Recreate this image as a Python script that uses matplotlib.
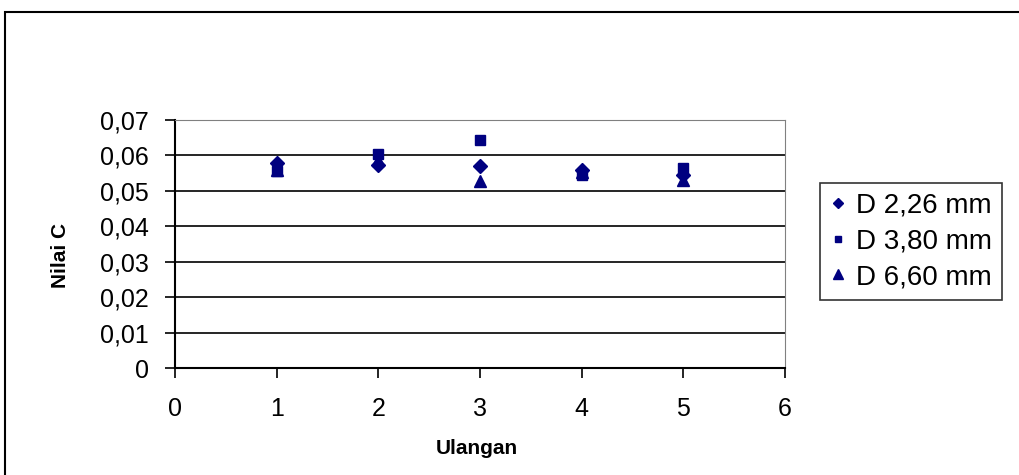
import matplotlib
matplotlib.use("Agg")
import matplotlib.pyplot as plt
from matplotlib.patches import Rectangle
from matplotlib.ticker import FuncFormatter

plt.rcParams['font.family'] = ['Liberation Sans', 'DejaVu Sans']

ulangan = [1, 2, 3, 4, 5]
d226 = [0.0578, 0.0573, 0.0570, 0.0559, 0.0546]
d380 = [0.0556, 0.0604, 0.0644, 0.0546, 0.0564]
d660 = [0.0560, 0.0588, 0.0528, 0.0552, 0.0531]
labels = ["D 2,26 mm", "D 3,80 mm", "D 6,60 mm"]
navy = "#000080"

W, H = 1019, 475
fig = plt.figure(figsize=(W / 100, H / 100), dpi=100)
ax = fig.add_axes([175 / W, 1 - 368 / H, 610 / W, 248 / H])

# outer chart border (runs off right and bottom edges)
fig.patches.append(Rectangle((5 / W, -0.1), 1.2, 1 - 12 / H + 0.1,
                             transform=fig.transFigure, fill=False,
                             edgecolor="black", linewidth=1.5, clip_on=False))

ax.plot(ulangan, d226, linestyle="none", marker="D", markersize=7, color=navy, label=labels[0])
ax.plot(ulangan, d380, linestyle="none", marker="s", markersize=6.5, color=navy, label=labels[1])
ax.plot(ulangan, d660, linestyle="none", marker="^", markersize=9, color=navy, label=labels[2])

ax.set_xlim(0, 6)
ax.set_ylim(0, 0.07)
ax.set_xticks(range(0, 7))
ax.set_yticks([i / 100 for i in range(0, 8)])
ax.yaxis.set_major_formatter(FuncFormatter(lambda v, p: "0" if v == 0 else f"{v:.2f}".replace(".", ",")))
ax.grid(axis="y", color="black", linewidth=1.2)
ax.set_axisbelow(True)
ax.tick_params(labelsize=18, direction="out", length=7, width=1.2)
ax.tick_params(axis="x", pad=14)
ax.tick_params(axis="y", pad=12)

for s in ["top", "right"]:
    ax.spines[s].set_color("#808080")
for s in ["left", "bottom"]:
    ax.spines[s].set_linewidth(1.5)

ax.set_xlabel("Ulangan", fontsize=15, fontweight="bold")
ax.set_ylabel("Nilai C", fontsize=15, fontweight="bold")
ax.xaxis.set_label_coords(477 / W, 1 - 439 / H, transform=fig.transFigure)
ax.yaxis.set_label_coords(70 / W, 1 - 255 / H, transform=fig.transFigure)

leg = ax.legend(loc="upper left", bbox_to_anchor=(820 / W, 1 - 183 / H),
                bbox_transform=fig.transFigure, fontsize=20, frameon=True,
                fancybox=False, edgecolor="black", handlelength=0.6,
                handletextpad=0.35, borderpad=0.35, labelspacing=0.35, markerscale=0.75,
                borderaxespad=0)
leg.get_frame().set_linewidth(1.2)

fig.savefig("out.png", dpi=100)
